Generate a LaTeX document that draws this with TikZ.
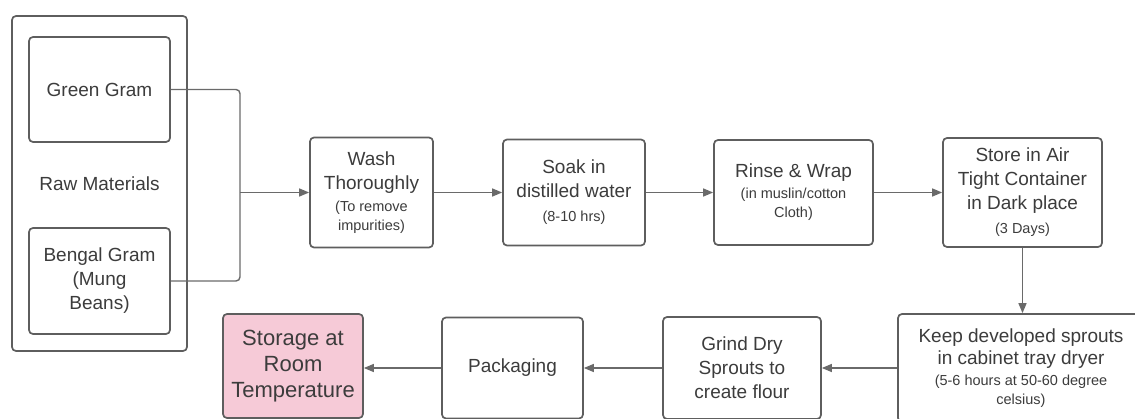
\documentclass[tikz,border=0pt]{standalone}
\usepackage{fontspec}
\setmainfont{Liberation Sans}
\usetikzlibrary{arrows.meta}
\definecolor{txt}{HTML}{3C3C3C}
\definecolor{brd}{HTML}{5E5E5E}
\definecolor{lin}{HTML}{6A6A6A}
\definecolor{pinkfill}{HTML}{F6CAD7}
\newcommand{\mtxt}{\fontsize{19}{24}\selectfont}
\newcommand{\stxt}{\fontsize{14.5}{19}\selectfont}
\begin{document}
\begin{tikzpicture}[x=1pt,y=-1pt,
  box/.style={draw=brd, line width=1.7pt, rounded corners=4pt, fill=white,
    inner sep=0pt, align=center, text=txt, font=\mtxt},
  conn/.style={draw=lin, line width=1.4pt},
  arr/.style={conn, -{Triangle[length=10pt,width=8pt]}}]
\useasboundingbox (0,0) rectangle (1135,419);
\clip (0,0) rectangle (1135,419);
\fill[white] (0,0) rectangle (1135,419);

\node[box, minimum width=175pt, minimum height=335pt] (raw) at (99.5,183.5) {Raw Materials};
\node[box, minimum width=141pt, minimum height=105pt] (green) at (99.5,89.5) {Green Gram};
\node[box, minimum width=141pt, minimum height=106pt] (bengal) at (99.5,281) {Bengal Gram\\(Mung\\Beans)};
\coordinate (j) at (240,192.5);

\node[box, minimum width=123pt, minimum height=110pt] (wash) at (371.5,192.5)
  {Wash\\Thoroughly\\[-2pt]{\stxt (To remove}\\[-5pt]{\stxt impurities)}};
\node[box, minimum width=142pt, minimum height=106pt] (soak) at (574,192.5)
  {Soak in\\distilled water\\{\stxt (8-10 hrs)}};
\node[box, minimum width=159pt, minimum height=105pt] (rinse) at (793.5,192.5)
  {Rinse \& Wrap\\[-3pt]{\stxt (in muslin/cotton}\\[-5pt]{\stxt Cloth)}};
\node[box, minimum width=159pt, minimum height=109pt] (store) at (1022.5,192.5)
  {Store in Air\\Tight Container\\in Dark place\\{\stxt (3 Days)}};

\node[box, minimum width=246pt, minimum height=108pt] (keep) at (1021,368)
  {Keep developed sprouts\\[-2pt]in cabinet tray dryer\\[-3pt]{\stxt (5-6 hours at 50-60 degree}\\[-5pt]{\stxt celsius)}};
\node[box, minimum width=158pt, minimum height=102pt] (grind) at (742,368)
  {Grind Dry\\Sprouts to\\create flour};
\node[box, minimum width=141pt, minimum height=101pt] (pack) at (512.5,368)
  {Packaging};
\node[box, fill=pinkfill, minimum width=140pt, minimum height=104pt,
  font=\fontsize{22}{26}\selectfont] (room) at (293,366)
  {Storage at\\Room\\Temperature};

\draw[conn, rounded corners=4pt] (green.east) -| (j) |- (bengal.east);
\draw[arr] (j) -- (wash.west);
\draw[arr] (wash.east) -- (soak.west);
\draw[arr] (soak.east) -- (rinse.west);
\draw[arr] (rinse.east) -- (store.west);
\draw[arr] (store.south) -- (store.south |- keep.north);
\draw[arr] (keep.west) -- (grind.east);
\draw[arr] (grind.west) -- (pack.east);
\draw[arr] (pack.west) -- (pack.west -| room.east);
\end{tikzpicture}
\end{document}
